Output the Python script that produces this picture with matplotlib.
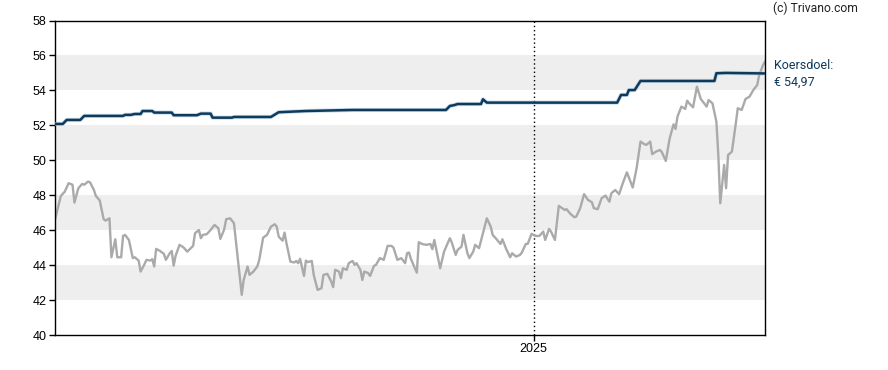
import matplotlib
matplotlib.use("Agg")
import matplotlib.pyplot as plt
import pandas as pd
import numpy as np

START = "2024-04-30"

# Share price (gray line): day offsets from START and closing values
price_days = [0, 3, 5, 7, 9, 10, 12, 14, 15, 17, 18, 20, 21, 23, 25, 26, 28, 29, 31, 32,
              34, 35, 36, 38, 40, 41, 43, 44, 46, 47, 49, 50, 51, 52, 54, 56, 57, 59, 60, 61,
              62, 64, 66, 68, 71, 72, 74, 75, 76, 78, 80, 82, 84, 85, 87, 88, 90, 92, 96, 97,
              99, 100, 102, 104, 105, 107, 109, 111, 113, 114, 115, 117, 118, 119, 121, 123, 124, 125, 126, 128,
              129, 130, 132, 133, 135, 137, 138, 140, 142, 143, 144, 146, 147, 148, 150, 151, 153, 154, 155, 157,
              158, 159, 161, 162, 164, 165, 167, 169, 171, 173, 174, 176, 178, 180, 181, 182, 183, 186, 187, 189,
              191, 193, 194, 195, 198, 200, 203, 204, 206, 207, 209, 210, 212, 213, 215, 216, 218, 222, 224, 225,
              227, 229, 230, 232, 234, 235, 237, 239, 240, 242, 243, 245, 247, 249, 251, 252, 254, 255, 257, 259,
              262, 263, 265, 267, 268, 270, 272, 274, 276, 277, 279, 281, 283, 285, 286, 288, 290, 292, 294, 296,
              297, 299, 301, 303, 304, 306, 307, 309, 311, 312, 314, 316, 318, 319, 320, 322, 324, 325, 326, 328,
              330, 332, 335, 336, 338, 340, 341, 342, 344, 345, 346, 348, 350, 351, 353, 355, 357, 359, 361, 362,
              364, 365]
price_vals = [46.6, 47.96, 48.2, 48.69, 48.6, 47.58, 48.4, 48.65, 48.6, 48.78, 48.74, 48.3, 47.96, 47.7, 46.63, 46.55, 46.68, 44.45, 45.48, 44.45,
              44.45, 45.67, 45.73, 45.44, 44.4, 44.45, 44.26, 43.63, 44.05, 44.3, 44.26, 44.34, 43.92, 44.93, 44.81, 44.64, 44.3, 44.68, 44.81, 43.97,
              44.53, 45.16, 45.02, 44.77, 45.1, 45.83, 46.01, 45.54, 45.73, 45.77, 46.01, 46.3, 46.11, 45.5, 46.05, 46.63, 46.68, 46.4, 42.3, 43.15,
              43.92, 43.44, 43.63, 43.92, 44.3, 45.57, 45.73, 46.2, 46.34, 46.2, 45.63, 45.4, 45.86, 45.25, 44.2, 44.15, 44.24, 44.11, 44.36, 43.38,
              44.26, 44.17, 44.24, 43.44, 42.58, 42.68, 43.44, 43.5, 43.06, 42.74, 43.73, 43.63, 43.25, 43.82, 43.73, 44.11, 44.24, 44.01, 44.11, 43.73,
              43.15, 43.63, 43.54, 43.38, 43.96, 44.01, 44.4, 44.3, 45.1, 45.1, 45.0, 44.3, 44.4, 44.11, 44.68, 44.72, 44.34, 43.57, 45.31, 45.2,
              45.16, 45.21, 44.91, 45.44, 43.82, 44.77, 45.54, 45.29, 44.58, 44.87, 45.06, 45.73, 44.68, 44.4, 44.77, 45.16, 44.97, 46.68, 46.2, 45.73,
              45.48, 45.21, 45.48, 44.91, 44.45, 44.68, 44.49, 44.58, 44.72, 45.21, 45.21, 45.79, 45.67, 45.67, 45.92, 45.44, 46.07, 45.92, 45.44, 47.39,
              47.16, 47.2, 46.93, 46.74, 46.78, 47.26, 48.06, 47.73, 47.6, 47.26, 47.2, 47.83, 47.98, 47.63, 48.11, 48.3, 48.06, 48.72, 49.31, 48.72,
              48.44, 49.55, 51.07, 50.92, 50.88, 51.07, 50.35, 50.5, 50.59, 50.46, 49.96, 51.26, 52.06, 51.79, 52.5, 53.07, 52.94, 53.41, 53.26, 53.03,
              54.21, 53.51, 53.07, 53.45, 53.26, 52.21, 50.3, 47.54, 49.73, 48.4, 50.3, 50.5, 52.12, 52.98, 52.88, 53.51, 53.64, 54.02, 54.31, 54.88,
              55.45, 55.64]

# Average price target (navy line)
target_days = [0, 4, 6, 13, 15, 35, 36, 39, 41, 44, 45, 50, 51, 60, 61, 73, 75, 80, 81, 91,
               92, 111, 115, 129, 153, 201, 203, 205, 207, 219, 220, 222, 289, 291, 294, 295, 298, 301, 339, 340,
               345, 365]
target_vals = [52.08, 52.08, 52.31, 52.31, 52.54, 52.54, 52.6, 52.6, 52.65, 52.65, 52.82, 52.82, 52.73, 52.73, 52.58, 52.58, 52.67, 52.67, 52.44, 52.44,
               52.48, 52.48, 52.75, 52.82, 52.88, 52.88, 53.11, 53.15, 53.22, 53.22, 53.49, 53.3, 53.3, 53.74, 53.74, 54.02, 54.02, 54.54, 54.54, 54.98,
               55.0, 54.97]

y_ticks = [40, 42, 44, 46, 48, 50, 52, 54, 56, 58]
band_ranges = [(42, 44), (46, 48), (50, 52), (54, 56)]
year_tick = "2025-01-01"
year_label = "2025"
target_label = "Koersdoel:\n€ 54,97"
credit = "(c) Trivano.com"

start = pd.Timestamp(START)
price_dates = start + pd.to_timedelta(price_days, unit="D")
target_dates = start + pd.to_timedelta(target_days, unit="D")
end = start + pd.Timedelta(days=365)

fig = plt.figure(figsize=(8.88, 3.70), dpi=100)
ax = fig.add_axes([55/888, 35/370, 710/888, 314.5/370])

for lo, hi in band_ranges:
    ax.axhspan(lo, hi, color="#eeeeee", lw=0, zorder=0)

ax.axvline(pd.Timestamp(year_tick), color="black", lw=1, ls=(0, (1, 2)), zorder=1)

ax.plot(price_dates, price_vals, color="#aaaaaa", lw=1.7, zorder=2, solid_joinstyle="round")
ax.plot(target_dates, target_vals, color="#a9c4dc", lw=3.0, zorder=3, alpha=0.6)
ax.plot(target_dates, target_vals, color="#0e3a5c", lw=1.8, zorder=4)

ax.set_xlim(start, end)
ax.set_ylim(40, 58)
ax.set_yticks(y_ticks)
ax.set_yticklabels([str(v) for v in y_ticks], fontsize=9, family="Liberation Sans")
ax.set_xticks([pd.Timestamp(year_tick)])
ax.set_xticklabels([year_label], fontsize=9, family="Liberation Sans")
ax.tick_params(axis="both", length=4, width=1, pad=2, colors="black")
for s in ax.spines.values():
    s.set_linewidth(1)
    s.set_color("black")

fig.text(773/888, 1 - 8/370, credit, fontsize=8.7, family="Roboto", va="center", ha="left", color="#222222")
fig.text(774/888, 1 - 74/370, target_label, fontsize=9, family="Roboto", va="center", ha="left",
         color="#0e3a5c", linespacing=1.45)

fig.savefig("out.png", dpi=100)
